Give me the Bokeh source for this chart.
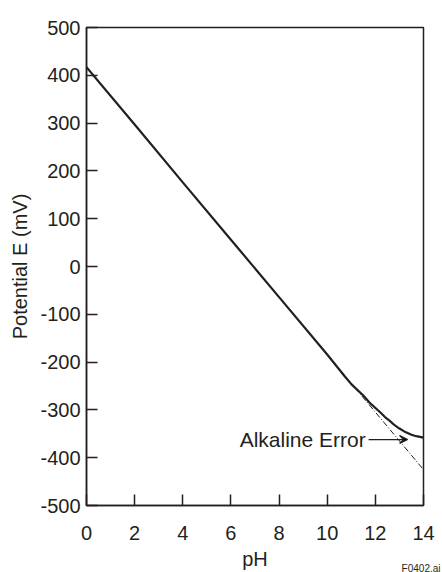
from bokeh.plotting import figure
from bokeh.models import Label, Arrow, VeeHead, FixedTicker, Title
from bokeh.embed import file_html
from bokeh.resources import INLINE

# Data
ph_ideal = [0, 14]
mv_ideal = [417, -425]
ph_meas = [0, 2, 4, 6, 8, 10, 10.7, 11.0, 11.5, 11.8, 12.2, 12.4, 12.6, 12.8, 13.0, 13.2, 13.5, 13.7, 14]
mv_meas = [417, 297, 176, 56, -64, -184, -228, -246, -270, -287, -305, -315, -323, -332, -339, -345, -352, -355, -358]
x_ticks = [0, 2, 4, 6, 8, 10, 12, 14]
y_ticks = [-500, -400, -300, -200, -100, 0, 100, 200, 300, 400, 500]

INK = "#231f20"
FONT = "Liberation Sans"

p = figure(width=442, height=572, x_range=(0, 14), y_range=(-500, 500),
           output_backend="svg", toolbar_location=None,
           min_border_left=86, min_border_right=19, min_border_top=27, min_border_bottom=66)
p.background_fill_color = "white"
p.border_fill_color = "white"
p.outline_line_color = INK
p.outline_line_width = 1.5
p.xgrid.visible = False
p.ygrid.visible = False

for ax in (p.xaxis[0], p.yaxis[0]):
    ax.axis_line_color = INK
    ax.axis_line_width = 1.5
    ax.major_tick_line_color = INK
    ax.major_tick_line_width = 1.5
    ax.major_tick_in = 11
    ax.major_tick_out = 0
    ax.minor_tick_line_color = None
    ax.major_label_text_font = FONT
    ax.major_label_text_font_size = "20px"
    ax.major_label_text_color = INK
    ax.axis_label_text_font = FONT
    ax.axis_label_text_font_size = "20px"
    ax.axis_label_text_font_style = "normal"
    ax.axis_label_text_color = INK

p.xaxis.ticker = FixedTicker(ticks=x_ticks)
p.yaxis.ticker = FixedTicker(ticks=y_ticks)
p.yaxis.major_label_overrides = {t: str(t) for t in y_ticks}
p.xaxis.major_label_overrides = {t: str(t) for t in x_ticks}
p.xaxis.axis_label = "pH"
p.yaxis.axis_label = "Potential E (mV)"
p.xaxis.major_label_standoff = 20
p.xaxis.axis_label_standoff = 5
p.yaxis.major_label_standoff = 6
p.yaxis.axis_label_standoff = 6

p.line(ph_ideal, mv_ideal, line_color=INK, line_width=1, line_dash="6 2 1 2")
p.line(ph_meas, mv_meas, line_color=INK, line_width=2.2)

p.add_layout(Label(x=11.6, y=-362, text="Alkaline Error", text_align="right",
                   text_baseline="middle", text_font=FONT, text_font_size="21px",
                   text_color=INK))
p.add_layout(Arrow(x_start=11.72, y_start=-362, x_end=13.34, y_end=-362,
                   line_color=INK, line_width=1.2,
                   end=VeeHead(size=8, line_color=INK, line_width=1.2)))
p.add_layout(Title(text="F0402.ai", align="right", vertical_align="top", text_font=FONT,
                   text_font_size="10px", text_font_style="normal",
                   text_color=INK, standoff=-20, offset=-17), "below")

open("out.html", "w").write(file_html(p, INLINE))
